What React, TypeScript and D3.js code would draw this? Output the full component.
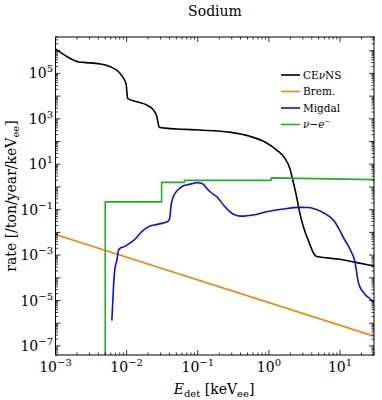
import React from "react";
import * as d3 from "d3";

const cevnsE = [1e-3, 1.46e-3, 2.12e-3, 3.1e-3, 4.28e-3, 5.9e-3, 7.7e-3, 9.06e-3, 9.88e-3, 0.0101, 0.0103, 0.014, 0.0193, 0.0239, 0.0266, 0.028, 0.0287, 0.029, 0.035, 0.06, 0.107, 0.28, 0.54, 0.88, 1.29, 1.67, 1.96, 2.2, 2.46, 2.7, 3.0, 3.3, 3.7, 4.1, 4.6, 5.5, 9.8, 16, 30];
const cevnsR = [1.2e6, 5.4e5, 3.2e5, 2.9e5, 2.6e5, 1.96e5, 1.18e5, 6.0e4, 3.1e4, 1.4e4, 8e3, 5.6e3, 4e3, 2.4e3, 1.24e3, 5.4e2, 4.3e2, 4.2e2, 3.9e2, 3.5e2, 3.2e2, 2.6e2, 1.7e2, 95, 42, 18.6, 6.8, 1.65, 0.35, 0.078, 0.021, 8.5e-3, 3.4e-3, 1.5e-3, 9e-4, 8e-4, 6.6e-4, 4.9e-4, 3.3e-4];

const bremE = [1e-3, 30];
const bremR = [8.1e-3, 2.7e-7];

const migdalE = [6.2e-3, 6.5e-3, 6.8e-3, 7.3e-3, 7.7e-3, 8.3e-3, 9.1e-3, 0.0105, 0.0119, 0.0135, 0.0155, 0.018, 0.0214, 0.026, 0.0313, 0.0355, 0.0387, 0.0405, 0.0419, 0.045, 0.048, 0.055, 0.063, 0.075, 0.088, 0.097, 0.108, 0.12, 0.134, 0.15, 0.17, 0.185, 0.2, 0.241, 0.284, 0.33, 0.392, 0.47, 0.6, 0.93, 1.58, 2.72, 3.6, 4.66, 6, 7.15, 8.5, 9.87, 11.3, 12.9, 14.5, 16.0, 17.0, 17.8, 19, 20.9, 23, 26, 29.5];
const migdalR = [1.3e-6, 3e-5, 2.2e-4, 6e-4, 1.66e-3, 2.1e-3, 2.3e-3, 3.0e-3, 3.9e-3, 5.5e-3, 9.1e-3, 0.014, 0.019, 0.022, 0.025, 0.028, 0.032, 0.045, 0.135, 0.35, 0.52, 0.85, 1.12, 1.3, 1.45, 1.55, 1.5, 1.3, 0.85, 0.6, 0.45, 0.37, 0.28, 0.134, 0.08, 0.06, 0.052, 0.053, 0.058, 0.081, 0.107, 0.126, 0.125, 0.102, 0.07, 0.049, 0.028, 0.0126, 5.5e-3, 2.75e-3, 1.3e-3, 6e-4, 2e-4, 7.9e-5, 4e-5, 2.5e-5, 1.7e-5, 1.26e-5, 8.7e-6];

const nueE = [0.005, 0.005, 0.031, 0.031, 0.065, 0.065, 1.08, 1.08, 30];
const nueR = [1e-9, 0.22, 0.22, 1.6, 1.6, 1.95, 1.95, 2.5, 2.1];

const xMajorExps = [-3, -2, -1, 0, 1];
const yMajorExps = [-7, -6, -5, -4, -3, -2, -1, 0, 1, 2, 3, 4, 5, 6];
const yLabelExps = [5, 3, 1, -1, -3, -5, -7];

const W = 382, H = 400;
const L = 55.5, R = 374, T = 37, B = 355;
const FONT = "DejaVu Serif";

const x = d3.scaleLog().domain([1e-3, 30]).range([L, R]);
const y = d3.scaleLog().domain([4e-8, 4e6]).range([B, T]);

const line = d3.line<[number, number]>()
  .x((d) => x(d[0]))
  .y((d) => y(d[1]))
  .curve(d3.curveMonotoneX);
const lineLin = d3.line<[number, number]>()
  .x((d) => x(d[0]))
  .y((d) => y(d[1]));

const zip = (a: number[], b: number[]) => a.map((v, i) => [v, b[i]] as [number, number]);

const series = [
  { name: "cevns", color: "#000000", path: line(zip(cevnsE, cevnsR)) },
  { name: "brem", color: "#ff8000", path: lineLin(zip(bremE, bremR)) },
  { name: "migdal", color: "#0a0aff", path: line(zip(migdalE, migdalR)) },
  { name: "nue", color: "#20b020", path: lineLin(zip(nueE, nueR)) },
];

function minorTicks(lo: number, hi: number, dmin: number, dmax: number) {
  const out: number[] = [];
  for (let e = lo; e <= hi; e++) {
    for (let k = 2; k <= 9; k++) {
      const v = k * Math.pow(10, e);
      if (v >= dmin && v <= dmax) out.push(v);
    }
  }
  return out;
}

const xMinor = minorTicks(-3, 1, 1e-3, 30);
const yMinor = minorTicks(-8, 6, 4e-8, 4e6);

const expLabel = (e: number) => (e < 0 ? "\u2212" + Math.abs(e) : String(e));

export default function App() {
  const maj = 5, mn = 2.5;
  return (
    <div style={{ position: "fixed", left: 0, top: 0 }}>
      <svg width={W} height={H} style={{ display: "block", background: "#fff" }} fontFamily={FONT}>
        <defs>
          <clipPath id="plotclip">
            <rect x={L} y={T} width={R - L} height={B - T} />
          </clipPath>
        </defs>
        <text x={215} y={16} textAnchor="middle" fontSize={14} fill="#000">Sodium</text>

        <g clipPath="url(#plotclip)" fill="none" strokeWidth={1.6} strokeLinejoin="round">
          {series.map((s) => (
            <path key={s.name} d={s.path || ""} stroke={s.color} />
          ))}
        </g>

        <g stroke="#000" strokeWidth={0.8}>
          {xMajorExps.map((e) => {
            const px = x(Math.pow(10, e));
            return (
              <g key={"xm" + e}>
                <line x1={px} x2={px} y1={B} y2={B - maj} />
                <line x1={px} x2={px} y1={T} y2={T + maj} />
              </g>
            );
          })}
          {xMinor.map((v, i) => {
            const px = x(v);
            return (
              <g key={"xn" + i}>
                <line x1={px} x2={px} y1={B} y2={B - mn} />
                <line x1={px} x2={px} y1={T} y2={T + mn} />
              </g>
            );
          })}
          {yMajorExps.map((e) => {
            const py = y(Math.pow(10, e));
            return (
              <g key={"ym" + e}>
                <line x1={L} x2={L + maj} y1={py} y2={py} />
                <line x1={R} x2={R - maj} y1={py} y2={py} />
              </g>
            );
          })}
          {yMinor.map((v, i) => {
            const py = y(v);
            return (
              <g key={"yn" + i}>
                <line x1={L} x2={L + mn} y1={py} y2={py} />
                <line x1={R} x2={R - mn} y1={py} y2={py} />
              </g>
            );
          })}
        </g>
        <rect x={L} y={T} width={R - L} height={B - T} fill="none" stroke="#000" strokeWidth={1} />

        <g fill="#000" fontSize={14}>
          {xMajorExps.map((e) => (
            <text key={"xl" + e} x={x(Math.pow(10, e))} y={372} textAnchor="middle">
              10<tspan fontSize={10} dy={-6}>{expLabel(e)}</tspan>
            </text>
          ))}
          {yLabelExps.map((e) => (
            <text key={"yl" + e} x={53} y={y(Math.pow(10, e)) + 5} textAnchor="end">
              10<tspan fontSize={10} dy={-6}>{expLabel(e)}</tspan>
            </text>
          ))}
        </g>

        <text x={214} y={394} textAnchor="middle" fontSize={14} fill="#000">
          <tspan fontStyle="italic">E</tspan>
          <tspan fontSize={10} dy={3}>det</tspan>
          <tspan dy={-3}> [keV</tspan>
          <tspan fontSize={10} dy={3}>ee</tspan>
          <tspan dy={-3}>]</tspan>
        </text>

        <text transform={`translate(16, ${(T + B) / 2}) rotate(-90)`} textAnchor="middle" fontSize={14} fill="#000">
          rate [/ton/year/keV
          <tspan fontSize={10} dy={3}>ee</tspan>
          <tspan dy={-3}>]</tspan>
        </text>

        <g fontSize={10.5} fill="#000">
          {[
            { c: "#000000", y: 75, label: <><tspan>CE</tspan><tspan fontStyle="italic">ν</tspan><tspan>NS</tspan></> },
            { c: "#ff8000", y: 91.5, label: <tspan>Brem.</tspan> },
            { c: "#0a0aff", y: 108, label: <tspan>Migdal</tspan> },
            { c: "#20b020", y: 124.5, label: <><tspan fontStyle="italic">ν</tspan><tspan>−</tspan><tspan fontStyle="italic">e</tspan><tspan fontSize={7} dy={-4}>−</tspan></> },
          ].map((it, i) => (
            <g key={"lg" + i}>
              <line x1={281} x2={300} y1={it.y} y2={it.y} stroke={it.c} strokeWidth={1.6} />
              <text x={303} y={it.y + 3.8}>{it.label}</text>
            </g>
          ))}
        </g>
      </svg>
    </div>
  );
}
